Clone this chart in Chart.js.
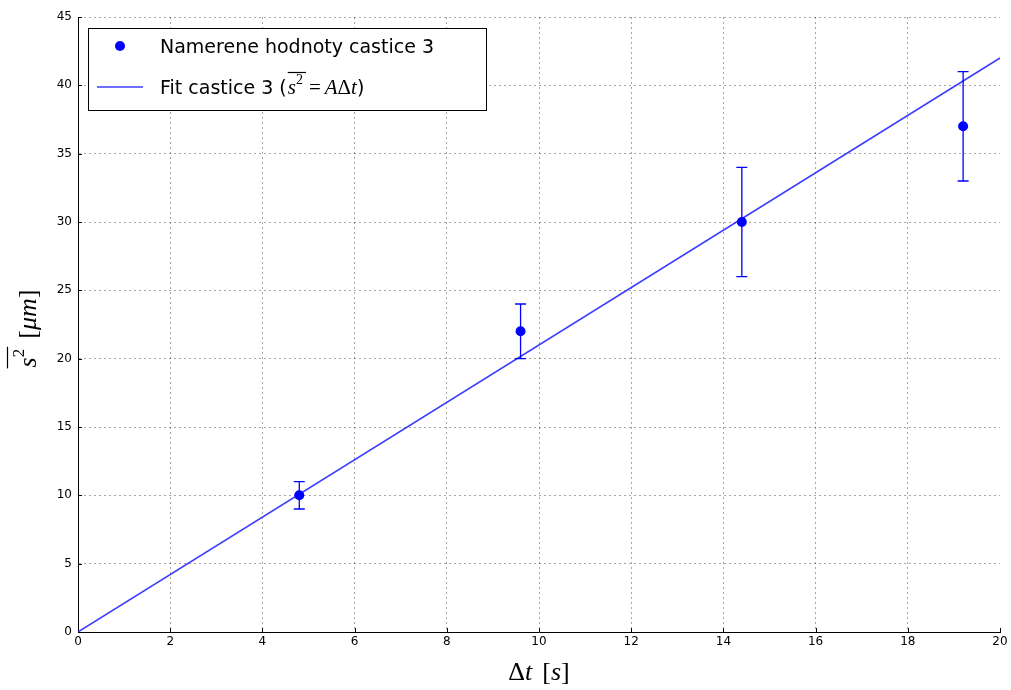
<!DOCTYPE html>
<html>
<head>
<meta charset="utf-8">
<script src="https://cdn.jsdelivr.net/npm/chart.js@4/dist/chart.umd.min.js"></script>
<style>
html,body{margin:0;padding:0;background:#fff;}
#wrap{width:1011px;height:690px;position:relative;}
</style>
</head>
<body>
<div id="wrap"><canvas id="c" width="1011" height="690"></canvas></div>
<script>
// ---- data ----
const dtValues = [4.8, 9.6, 14.4, 19.2];
const s2Values = [10, 22, 30, 37];
const s2Errors = [1, 2, 4, 4];
const fitX = [0, 20];
const fitY = [0, 42];
const xTicks = [0, 2, 4, 6, 8, 10, 12, 14, 16, 18, 20];
const yTicks = [0, 5, 10, 15, 20, 25, 30, 35, 40, 45];
const seriesLabels = ['Namerene hodnoty castice 3', 'Fit castice 3 ('];

const pointData = dtValues.map((x, i) => ({x: x, y: s2Values[i]}));
const fitData = fitX.map((x, i) => ({x: x, y: fitY[i]}));

const SANS = '"DejaVu Sans", sans-serif';
const SERIF = '"Liberation Serif", "DejaVu Serif", serif';

function drawRuns(ctx, runs, x, y) {
  let cx = x;
  for (const r of runs) {
    ctx.font = r.font;
    ctx.fillText(r.t, cx, y + (r.dy || 0));
    cx += ctx.measureText(r.t).width + (r.gap || 0);
  }
  return cx;
}
function measureRuns(ctx, runs) {
  let w = 0;
  for (const r of runs) { ctx.font = r.font; w += ctx.measureText(r.t).width + (r.gap || 0); }
  return w;
}

const customPlugin = {
  id: 'custom',
  beforeDatasetsDraw(chart) {
    const ctx = chart.ctx;
    const xs = chart.scales.x, ys = chart.scales.y;
    const a = chart.chartArea;
    ctx.save();
    ctx.setLineDash([]);
    ctx.strokeStyle = '#000';
    ctx.lineWidth = 1;
    ctx.beginPath();
    for (const t of xTicks) {
      const px = Math.round(xs.getPixelForValue(t)) + 0.5;
      ctx.moveTo(px, a.bottom); ctx.lineTo(px, a.bottom - 4);
    }
    for (const t of yTicks) {
      const py = Math.round(ys.getPixelForValue(t)) + 0.5;
      ctx.moveTo(a.left, py); ctx.lineTo(a.left + 4, py);
    }
    ctx.stroke();
    ctx.restore();
  },
  afterDatasetsDraw(chart) {
    const ctx = chart.ctx;
    const xs = chart.scales.x, ys = chart.scales.y;
    ctx.save();
    ctx.setLineDash([]);
    ctx.strokeStyle = '#0000ff';
    ctx.lineWidth = 1.3;
    ctx.beginPath();
    dtValues.forEach((x, i) => {
      const px = xs.getPixelForValue(x);
      const top = ys.getPixelForValue(s2Values[i] + s2Errors[i]);
      const bot = ys.getPixelForValue(s2Values[i] - s2Errors[i]);
      ctx.moveTo(px, top); ctx.lineTo(px, bot);
      ctx.moveTo(px - 5.5, top); ctx.lineTo(px + 5.5, top);
      ctx.moveTo(px - 5.5, bot); ctx.lineTo(px + 5.5, bot);
    });
    ctx.stroke();
    ctx.restore();
  },
  afterDraw(chart) {
    const ctx = chart.ctx;
    const a = chart.chartArea;
    ctx.save();
    ctx.setLineDash([]);
    ctx.fillStyle = '#000';
    ctx.textBaseline = 'alphabetic';
    // x axis title: Δt [s]
    const xRuns = [
      {t: 'Δ', font: '26px ' + SERIF},
      {t: 't', font: 'italic 26px ' + SERIF, gap: 10},
      {t: '[', font: '26px ' + SERIF},
      {t: 's', font: 'italic 26px ' + SERIF},
      {t: ']', font: '26px ' + SERIF}
    ];
    const xw = measureRuns(ctx, xRuns);
    drawRuns(ctx, xRuns, (a.left + a.right) / 2 - xw / 2, 680);

    // y axis title rotated
    ctx.save();
    ctx.translate(36, (a.top + a.bottom) / 2 + 4);
    ctx.rotate(-Math.PI / 2);
    const yRuns = [
      {t: 's', font: 'italic 26px ' + SERIF},
      {t: '2', font: '17px ' + SERIF, dy: -12, gap: 10},
      {t: '[', font: '26px ' + SERIF},
      {t: 'μm', font: 'italic 26px ' + SERIF},
      {t: ']', font: '26px ' + SERIF}
    ];
    const yw = measureRuns(ctx, yRuns);
    const ys0 = -yw / 2;
    drawRuns(ctx, yRuns, ys0, 0);
    ctx.font = 'italic 26px ' + SERIF;
    const sw = ctx.measureText('s').width;
    ctx.font = '17px ' + SERIF;
    const tw = ctx.measureText('2').width;
    ctx.strokeStyle = '#000'; ctx.lineWidth = 1.2;
    ctx.beginPath(); ctx.moveTo(ys0 - 1, -28.5); ctx.lineTo(ys0 + sw + tw + 2, -28.5); ctx.stroke();
    ctx.restore();

    // legend
    const lx = 88.5, ly = 28.5, lw = 398, lh = 82;
    ctx.fillStyle = '#fff';
    ctx.fillRect(lx, ly, lw, lh);
    ctx.strokeStyle = '#000'; ctx.lineWidth = 1;
    ctx.strokeRect(lx, ly, lw, lh);
    ctx.fillStyle = '#0000ff';
    ctx.beginPath(); ctx.arc(120, 46, 5, 0, Math.PI * 2); ctx.fill();
    ctx.fillStyle = '#000';
    ctx.font = '19px ' + SANS;
    ctx.fillText(seriesLabels[0], 160, 53);
    ctx.strokeStyle = 'rgba(40,40,255,0.9)'; ctx.lineWidth = 1.5;
    ctx.beginPath(); ctx.moveTo(97, 87); ctx.lineTo(143, 87); ctx.stroke();
    const lRuns = [
      {t: seriesLabels[1], font: '19px ' + SANS, gap: 1},
      {t: 's', font: 'italic 21px ' + SERIF},
      {t: '2', font: '14px ' + SERIF, dy: -10, gap: 6},
      {t: '=', font: '21px ' + SERIF, gap: 4},
      {t: 'A', font: 'italic 21px ' + SERIF},
      {t: 'Δ', font: '21px ' + SERIF},
      {t: 't', font: 'italic 21px ' + SERIF},
      {t: ')', font: '19px ' + SANS}
    ];
    ctx.fillStyle = '#000';
    drawRuns(ctx, lRuns, 160, 94);
    ctx.font = '19px ' + SANS;
    const pre = ctx.measureText(seriesLabels[1]).width + 1;
    ctx.font = 'italic 21px ' + SERIF;
    const sw2 = ctx.measureText('s').width;
    ctx.font = '14px ' + SERIF;
    const tw2 = ctx.measureText('2').width;
    ctx.lineWidth = 1.2; ctx.strokeStyle = '#000';
    ctx.beginPath(); ctx.moveTo(160 + pre, 72.5); ctx.lineTo(160 + pre + sw2 + tw2 + 3, 72.5); ctx.stroke();
    ctx.restore();
  }
};

const gridColor = 'rgba(0,0,0,0.35)';
new Chart(document.getElementById('c'), {
  type: 'scatter',
  data: {
    datasets: [
      {
        label: seriesLabels[1],
        data: fitData,
        showLine: true,
        borderColor: 'rgba(40,40,255,0.9)',
        borderWidth: 1.5,
        pointRadius: 0,
        fill: false,
        order: 2
      },
      {
        label: seriesLabels[0],
        data: pointData,
        backgroundColor: '#0000ff',
        borderColor: '#0000ff',
        pointRadius: 5,
        pointBorderWidth: 0,
        order: 1
      }
    ]
  },
  options: {
    responsive: false,
    animation: false,
    layout: {padding: {top: 17, right: 11, left: 0, bottom: 0}},
    plugins: {legend: {display: false}, tooltip: {enabled: false}},
    scales: {
      x: {
        type: 'linear', min: 0, max: 20,
        afterBuildTicks: (s) => { s.ticks = xTicks.map(v => ({value: v})); },
        afterFit: (s) => { s.height = 58; },
        ticks: {color: '#000', font: {family: SANS, size: 12}, padding: 3, maxRotation: 0},
        grid: {
          color: (c) => (c.tick && (c.tick.value === 0 || c.tick.value === 20)) ? 'rgba(0,0,0,0)' : gridColor,
          lineWidth: 1, tickLength: 0, drawTicks: false
        },
        border: {display: true, color: '#000', width: 1, dash: [2, 3]}
      },
      y: {
        type: 'linear', min: 0, max: 45,
        afterBuildTicks: (s) => { s.ticks = yTicks.map(v => ({value: v})); },
        afterFit: (s) => { s.width = 78; },
        ticks: {color: '#000', font: {family: SANS, size: 12}, padding: 6},
        grid: {
          color: (c) => (c.tick && c.tick.value === 0) ? 'rgba(0,0,0,0)' : gridColor,
          lineWidth: 1, tickLength: 0, drawTicks: false
        },
        border: {display: true, color: '#000', width: 1, dash: [2, 3]}
      }
    },
    elements: {line: {tension: 0}}
  },
  plugins: [customPlugin]
});
</script>
</body>
</html>
